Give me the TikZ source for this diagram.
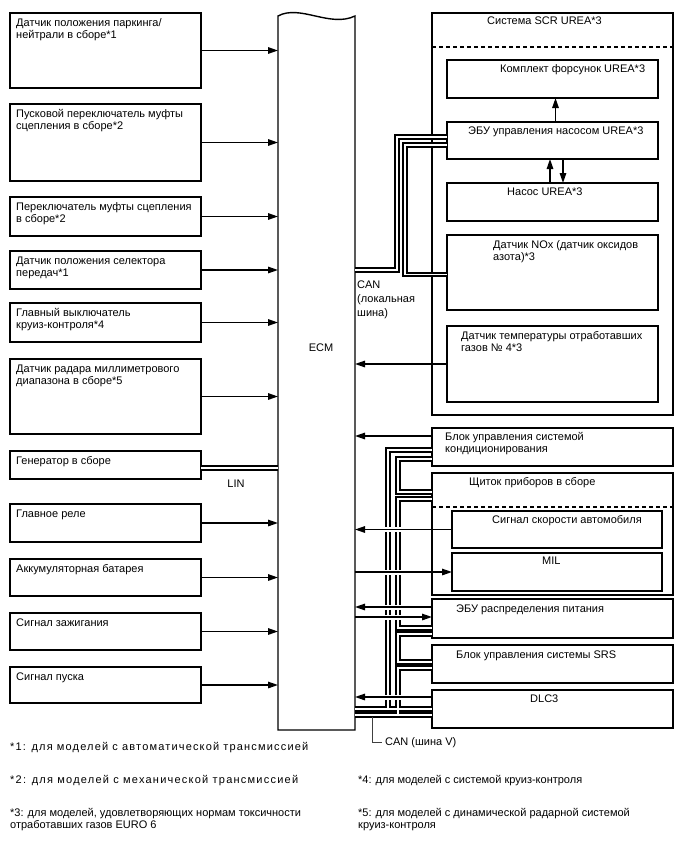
\documentclass[tikz,border=0pt]{standalone}
\usepackage{fontspec}
\setmainfont{Liberation Sans}
\usetikzlibrary{arrows.meta,calc}
\begin{document}
\begin{tikzpicture}[x=1pt,y=-1pt,
  box/.style={draw, line width=1.4pt, anchor=north west, inner sep=0pt, outer sep=0pt},
  txt/.style={anchor=base west, inner sep=0pt, align=left, font=\fontsize{11}{12.5}\selectfont},
  arr/.style={line width=1.4pt, -{Triangle[length=10pt,width=6.5pt]}},
  gap/.style={preaction={draw=white, line width=5pt, -, shorten <=#1, shorten >=#1}},
  busk/.style={line width=5.6pt},
  busw/.style={white, line width=1.5pt},
  dashline/.style={line width=1.2pt, dash pattern=on 4pt off 3pt},
  lead/.style={line width=0.9pt, black!75},
  wide/.style={font=\fontsize{11}{12.5}\selectfont\addfontfeature{LetterSpace=#1}}
]
\useasboundingbox (0,0) rectangle (688,852);

% ---------- left boxes ----------
\node[box, minimum width=191pt, minimum height=75pt] (l1) at (10,13) {};
\node[box, minimum width=191pt, minimum height=77pt] (l2) at (10,104) {};
\node[box, minimum width=191pt, minimum height=39pt] (l3) at (10,197) {};
\node[box, minimum width=191pt, minimum height=38pt] (l4) at (10,251) {};
\node[box, minimum width=191pt, minimum height=39pt] (l5) at (10,303) {};
\node[box, minimum width=191pt, minimum height=75pt] (l6) at (10,359) {};
\node[box, minimum width=191pt, minimum height=28pt] (l7) at (10,451) {};
\node[box, minimum width=191pt, minimum height=38pt] (l8) at (10,504) {};
\node[box, minimum width=191pt, minimum height=37pt] (l9) at (10,559) {};
\node[box, minimum width=191pt, minimum height=37pt] (l10) at (10,613) {};
\node[box, minimum width=191pt, minimum height=36pt] (l11) at (10,667) {};

\node[txt] (t1) at (16,38.5) {Датчик положения паркинга/\\нейтрали в сборе*1};
\node[txt] (t2) at (16,129.5) {Пусковой переключатель муфты\\сцепления в сборе*2};
\node[txt] (t3) at (16,222.5) {Переключатель муфты сцепления\\в сборе*2};
\node[txt] (t4) at (16,276.5) {Датчик положения селектора\\передач*1};
\node[txt] (t5) at (16,328.5) {Главный выключатель\\круиз-контроля*4};
\node[txt] (t6) at (16,384.5) {Датчик радара миллиметрового\\диапазона в сборе*5};
\node[txt] (t7) at (16,464) {Генератор в сборе};
\node[txt] (t8) at (16,517) {Главное реле};
\node[txt] (t9) at (16,572) {Аккумуляторная батарея};
\node[txt] (t10) at (16,626) {Сигнал зажигания};
\node[txt] (t11) at (16,680) {Сигнал пуска};

% ---------- ECM ----------
\node[anchor=north west, minimum width=77pt, minimum height=714pt, inner sep=0pt, outer sep=0pt] (ecm) at (278,16) {};
\draw[line width=1.4pt] (ecm.north west) .. controls +(22,-12) and +(-25,12) .. (ecm.north east)
  -- (ecm.south east) -- (ecm.south west) -- cycle;
\node[txt, anchor=base] (ecmtxt) at (321,351) {ECM};

% ---------- SCR system ----------
\node[box, minimum width=241pt, minimum height=402pt] (scr) at (432,13) {};
\draw[dashline] ([yshift=-34pt]scr.north west) -- ([yshift=-34pt]scr.north east);
\node[txt] (scrt) at (487,24) {Система SCR UREA*3};
\node[box, minimum width=211pt, minimum height=38pt] (inj) at (447,60) {};
\node[box, minimum width=211pt, minimum height=37pt] (ecu) at (447,122) {};
\node[box, minimum width=211pt, minimum height=38pt] (pump) at (447,183) {};
\node[box, minimum width=211pt, minimum height=75pt] (nox) at (447,235) {};
\node[box, minimum width=211pt, minimum height=76pt] (tmp) at (447,326) {};
\node[txt] (injt) at (500,72) {Комплект форсунок UREA*3};
\node[txt] (ecut) at (468,134) {ЭБУ управления насосом UREA*3};
\node[txt] (pumpt) at (507,195) {Насос UREA*3};
\node[txt] (noxt) at (493,260.5) {Датчик NOx (датчик оксидов\\азота)*3};
\node[txt] (tmpt) at (461,351.5) {Датчик температуры отработавших\\газов № 4*3};

% ---------- lower right ----------
\node[box, minimum width=241pt, minimum height=38pt] (ac) at (432,428) {};
\node[box, minimum width=241pt, minimum height=122pt] (dash) at (432,473) {};
\draw[dashline] ([yshift=-34pt]dash.north west) -- ([yshift=-34pt]dash.north east);
\node[box, minimum width=210pt, minimum height=37pt] (spd) at (452,511) {};
\node[box, minimum width=210pt, minimum height=38pt] (mil) at (452,553) {};
\node[box, minimum width=241pt, minimum height=39pt] (pdu) at (432,599) {};
\node[box, minimum width=241pt, minimum height=38pt] (srs) at (432,645) {};
\node[box, minimum width=241pt, minimum height=38pt] (dlc) at (432,690) {};
\node[txt] (act) at (445,452.5) {Блок управления системой\\кондиционирования};
\node[txt] (dasht) at (469,485) {Щиток приборов в сборе};
\node[txt] (spdt) at (492,523) {Сигнал скорости автомобиля};
\node[txt] (milt) at (542,564) {MIL};
\node[txt] (pdut) at (456,612) {ЭБУ распределения питания};
\node[txt] (srst) at (456,658) {Блок управления системы SRS};
\node[txt] (dlct) at (530,702) {DLC3};

% ---------- bus coordinates ----------
\coordinate (cl1) at (397,270);
\coordinate (cl2) at (405,274.5);
\coordinate (cv1) at (388,709);
\coordinate (cv2) at (398,492);
\coordinate (cv3) at (398,628);
\coordinate (cv4) at (398,662);
\coordinate (cv5) at (398,715);
\coordinate (lin) at ([yshift=-3pt]l7.east);

\foreach \st in {busk,busw}{
  % LIN
  \draw[\st] (lin) -- (lin -| ecm.west);
  % local CAN
  \draw[\st] (ecm.east |- cl1) -- (cl1) |- ([yshift=3.5pt]ecu.west);
  \draw[\st] ([yshift=-4.5pt]ecu.west) -| (cl2) -- (cl2 -| nox.west);
  % CAN V
  \draw[\st] (ecm.east |- cv1) -- (cv1 -| dlc.west);
  \draw[\st] (cv1) |- ([yshift=-3pt]ac.west);
  \draw[\st] ([yshift=-12pt]ac.west) -| (cv2) -- (cv2 -| dash.west);
  \draw[\st] ([yshift=-26pt]dash.north west) -| (cv3) -- (cv3 -| pdu.west);
  \draw[\st] ([yshift=-35pt]pdu.north west) -| (cv4) -- (cv4 -| srs.west);
  \draw[\st] ([yshift=-23pt]srs.north west) -| (cv5);
  \draw[\st] (ecm.east |- cv5) -- (cv5 -| dlc.west);
}

% ---------- arrows left ----------
\foreach \n in {l1,l2,l3,l4,l5,l6,l8,l9,l10,l11}{
  \draw[arr] (\n.east) -- (\n.east -| ecm.west);
}

% ---------- arrows right ----------
\draw[arr] ([xshift=3pt]ecu.north) -- ([xshift=3pt]inj.south);
\draw[arr] ([xshift=-2.5pt]pump.north) -- ([xshift=-2.5pt]ecu.south);
\draw[arr] ([xshift=10.5pt]ecu.south) -- ([xshift=10.5pt]pump.north);
\draw[arr] (tmp.west) -- (tmp.west -| ecm.east);

\coordinate (a1) at ([yshift=-8pt]ac.north west);
\coordinate (a4) at ([yshift=-8pt]pdu.north west);
\coordinate (a5) at ([yshift=-18pt]pdu.north west);
\coordinate (a6) at ([yshift=-7pt]dlc.north west);
\draw[arr] (a1) -- (a1 -| ecm.east);
\draw[arr, gap=25pt] (spd.west) -- (spd.west -| ecm.east);
\draw[arr, gap=25pt] (ecm.east |- mil.west) -- (mil.west);
\draw[arr, gap=7pt] (a4) -- (a4 -| ecm.east);
\draw[arr, gap=7pt] (ecm.east |- a5) -- (a5);
\draw[arr, gap=7pt] (a6) -- (a6 -| ecm.east);

% ---------- labels ----------
\node[txt, anchor=base] (lint) at (236,487) {LIN};
\node[txt, font=\fontsize{11}{14}\selectfont] (canl) at (357,316) {CAN\\(локальная\\шина)};
\node[txt] (canv) at (385,745) {CAN (шина V)};
\coordinate (ld) at (372,717);
\draw[lead] (ld) |- ([xshift=-3pt]canv.west);

% ---------- footnotes ----------
\node[txt, wide=10.6] (f1) at (10,750) {*1: для моделей с автоматической трансмиссией};
\node[txt, wide=11.2] (f2) at (10,783) {*2: для моделей с механической трансмиссией};
\node[txt] (f3) at (10,828.5) {*3: для моделей, удовлетворяющих нормам токсичности\\отработавших газов EURO 6};
\node[txt] (f4) at (358,783) {*4: для моделей с системой круиз-контроля};
\node[txt] (f5) at (358,828.5) {*5: для моделей с динамической радарной системой\\круиз-контроля};
\end{tikzpicture}
\end{document}
